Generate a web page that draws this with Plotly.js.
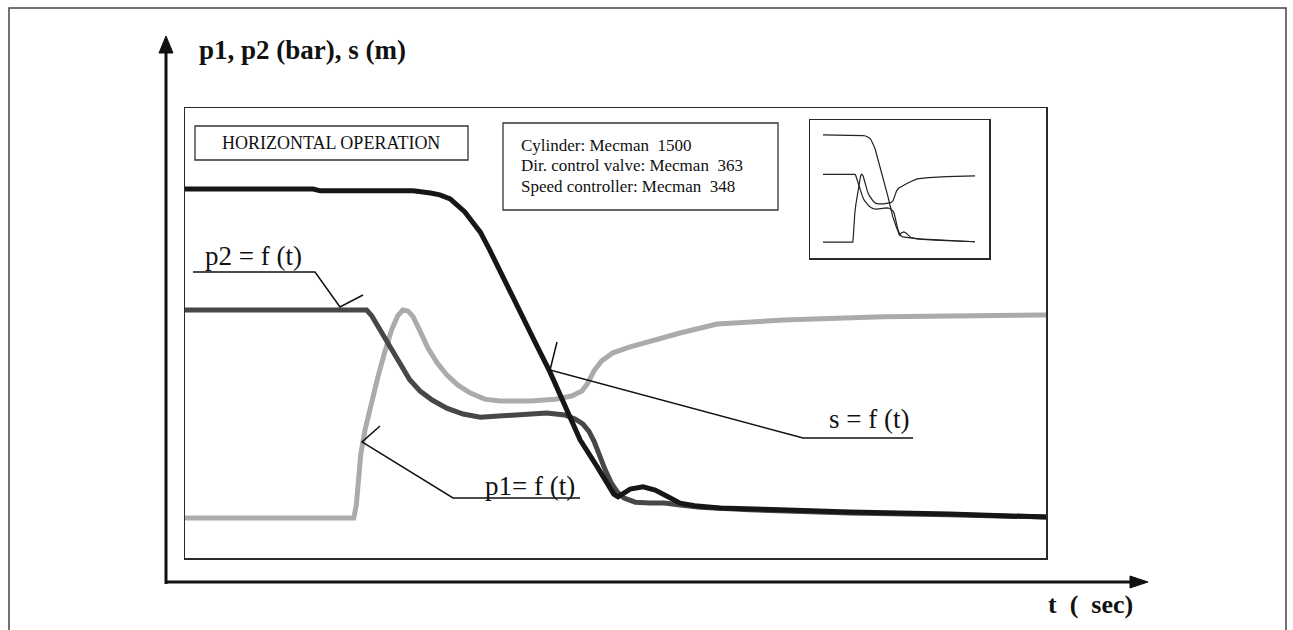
<!DOCTYPE html>
<html>
<head>
<meta charset="utf-8">
<script src="https://cdn.plot.ly/plotly-3.0.1.min.js"></script>
<style>html,body{margin:0;padding:0;background:#fff;}#chart{width:1293px;height:630px;}</style>
</head>
<body>
<div id="chart"></div>
<script>
// ---- data (time in arbitrary units, values in arbitrary units as drawn) ----
const t_s = [0,1.49,1.57,2.65,2.85,2.96,3.08,3.17,3.25,3.33,3.43,3.54,3.69,3.89,4.07,4.24,4.41,4.59,4.79,4.90,4.98,5.03,5.08,5.17,5.32,5.46,5.61,5.75,5.92,6.21,6.91,7.72,8.88,10.0];
const s_val = [8.20,8.20,8.16,8.16,8.11,8.07,7.98,7.84,7.69,7.49,7.24,6.84,6.24,5.44,4.78,4.13,3.40,2.62,2.02,1.67,1.42,1.36,1.42,1.53,1.58,1.51,1.36,1.22,1.16,1.11,1.07,1.02,0.98,0.91];

const t_p2 = [0,2.11,2.17,2.26,2.38,2.50,2.61,2.73,2.87,3.04,3.23,3.43,3.66,3.89,4.20,4.41,4.53,4.62,4.69,4.75,4.81,4.88,4.95,5.02,5.10,5.23,5.40,5.57,5.75,5.98,6.56,7.72,8.88,10.0];
const p2_val = [5.51,5.51,5.38,5.09,4.67,4.29,3.96,3.71,3.51,3.33,3.20,3.13,3.16,3.20,3.22,3.18,3.09,2.98,2.82,2.60,2.29,1.96,1.67,1.47,1.33,1.24,1.22,1.22,1.18,1.13,1.07,1.00,0.96,0.91];

const t_p1 = [0,1.96,1.99,2.01,2.04,2.09,2.16,2.24,2.32,2.40,2.47,2.53,2.59,2.65,2.73,2.82,2.93,3.04,3.17,3.31,3.48,3.66,4.01,4.30,4.49,4.61,4.68,4.75,4.84,4.97,5.17,5.40,5.75,6.18,6.95,8.11,10.0];
const p1_val = [0.89,0.89,1.18,1.73,2.29,2.84,3.44,4.02,4.58,5.07,5.38,5.51,5.49,5.36,5.04,4.67,4.33,4.07,3.84,3.67,3.53,3.49,3.49,3.53,3.60,3.71,3.89,4.16,4.38,4.56,4.69,4.82,5.00,5.20,5.29,5.36,5.40];

const yTitle = 'p1, p2 (bar), s (m)';
const xTitle = 't\u00a0\u00a0(\u00a0\u00a0sec)';
const modeText = 'HORIZONTAL OPERATION';
const infoLines = ['Cylinder: Mecman\u00a0\u00a01500', 'Dir. control valve: Mecman\u00a0\u00a0363', 'Speed controller: Mecman\u00a0\u00a0348'];
const lblP2 = 'p2 = f (t)';
const lblP1 = 'p1= f (t)';
const lblS = 's = f (t)';

// ---- layout helpers (pixel -> paper) ----
const L = 185, R = 1046, T = 108, B = 558;
const X = px => (px - L) / (R - L);
const Y = py => (B - py) / (B - T);
const P = pts => pts.map((p, i) => (i ? 'L' : 'M') + X(p[0]).toFixed(5) + ',' + Y(p[1]).toFixed(5)).join(' ');

const serif = 'Liberation Serif, Times New Roman, serif';
const ink = '#111';

function line(xs, ys, color, width, inset) {
  const tr = {x: xs, y: ys, mode: 'lines', line: {color: color, width: width, shape: 'linear'}, hoverinfo: 'skip'};
  if (inset) { tr.xaxis = 'x2'; tr.yaxis = 'y2'; }
  return tr;
}
const traces = [
  line(t_p1, p1_val, '#ababab', 5),
  line(t_p2, p2_val, '#474747', 5),
  line(t_s, s_val, '#161616', 5),
  line(t_p1, p1_val, '#222', 1.2, true),
  line(t_p2, p2_val, '#222', 1.2, true),
  line(t_s, s_val, '#222', 1.2, true)
];

const axBase = {showgrid: false, zeroline: false, showticklabels: false, ticks: '', showline: true, mirror: true, linecolor: '#2a2a2a', linewidth: 1.5, fixedrange: true};

const thin = {color: ink, width: 1.5};
const shapes = [
  {type: 'rect', xref: 'paper', yref: 'paper', x0: X(9), x1: X(1286), y0: Y(650), y1: Y(8), line: {color: '#444', width: 1.5}},
  {type: 'line', xref: 'paper', yref: 'paper', x0: X(166), x1: X(166), y0: Y(584), y1: Y(50), line: {color: ink, width: 3}},
  {type: 'path', xref: 'paper', yref: 'paper', path: P([[166,36],[159,53],[173,53]]) + ' Z', fillcolor: ink, line: {color: ink, width: 1}},
  {type: 'line', xref: 'paper', yref: 'paper', x0: X(165), x1: X(1134), y0: Y(582), y1: Y(582), line: {color: ink, width: 3}},
  {type: 'path', xref: 'paper', yref: 'paper', path: P([[1148,582],[1130,576],[1130,588]]) + ' Z', fillcolor: ink, line: {color: ink, width: 1}},
  {type: 'rect', xref: 'paper', yref: 'paper', x0: X(195), x1: X(468), y0: Y(160), y1: Y(126), line: {color: '#333', width: 1.3}},
  {type: 'rect', xref: 'paper', yref: 'paper', x0: X(503), x1: X(778), y0: Y(210), y1: Y(123), line: {color: '#333', width: 1.3}},
  {type: 'path', xref: 'paper', yref: 'paper', path: P([[193,272],[315,272],[340,307],[363,295]]), line: thin},
  {type: 'path', xref: 'paper', yref: 'paper', path: P([[580,498],[453,498],[362,442],[380,426]]), line: thin},
  {type: 'path', xref: 'paper', yref: 'paper', path: P([[913,438],[803,438],[550,370],[557,342]]), line: thin}
];

function txt(s, px, py, size, opts) {
  return Object.assign({text: s, xref: 'paper', yref: 'paper', x: X(px), y: Y(py), xanchor: 'left', yanchor: 'middle', showarrow: false,
    font: {family: serif, size: size, color: ink}}, opts || {});
}
const annotations = [
  txt('<b>' + yTitle + '</b>', 197, 50, 27),
  txt('<b>' + xTitle + '</b>', 1046, 604, 26),
  txt(modeText, 331, 143, 18, {xanchor: 'center'}),
  txt(infoLines[0], 519, 145, 17),
  txt(infoLines[1], 519, 165, 17),
  txt(infoLines[2], 519, 186, 17),
  txt(lblP2, 203, 256, 27),
  txt(lblP1, 483, 486, 27),
  txt(lblS, 827, 419, 27)
];

const layout = {
  width: 1293, height: 630,
  margin: {l: L, r: 1293 - R, t: T, b: 630 - B, pad: 0},
  paper_bgcolor: '#fff', plot_bgcolor: 'rgba(0,0,0,0)',
  showlegend: false,
  xaxis: Object.assign({}, axBase, {range: [0, 10]}),
  yaxis: Object.assign({}, axBase, {range: [0, 10]}),
  xaxis2: Object.assign({}, axBase, {range: [-0.855, 10.92], domain: [X(810), X(989)], anchor: 'y2'}),
  yaxis2: Object.assign({}, axBase, {range: [-0.20, 9.22], domain: [Y(258), Y(120)], anchor: 'x2'}),
  shapes: shapes,
  annotations: annotations
};

Plotly.newPlot('chart', traces, layout, {displayModeBar: false, staticPlot: true});
</script>
</body>
</html>
